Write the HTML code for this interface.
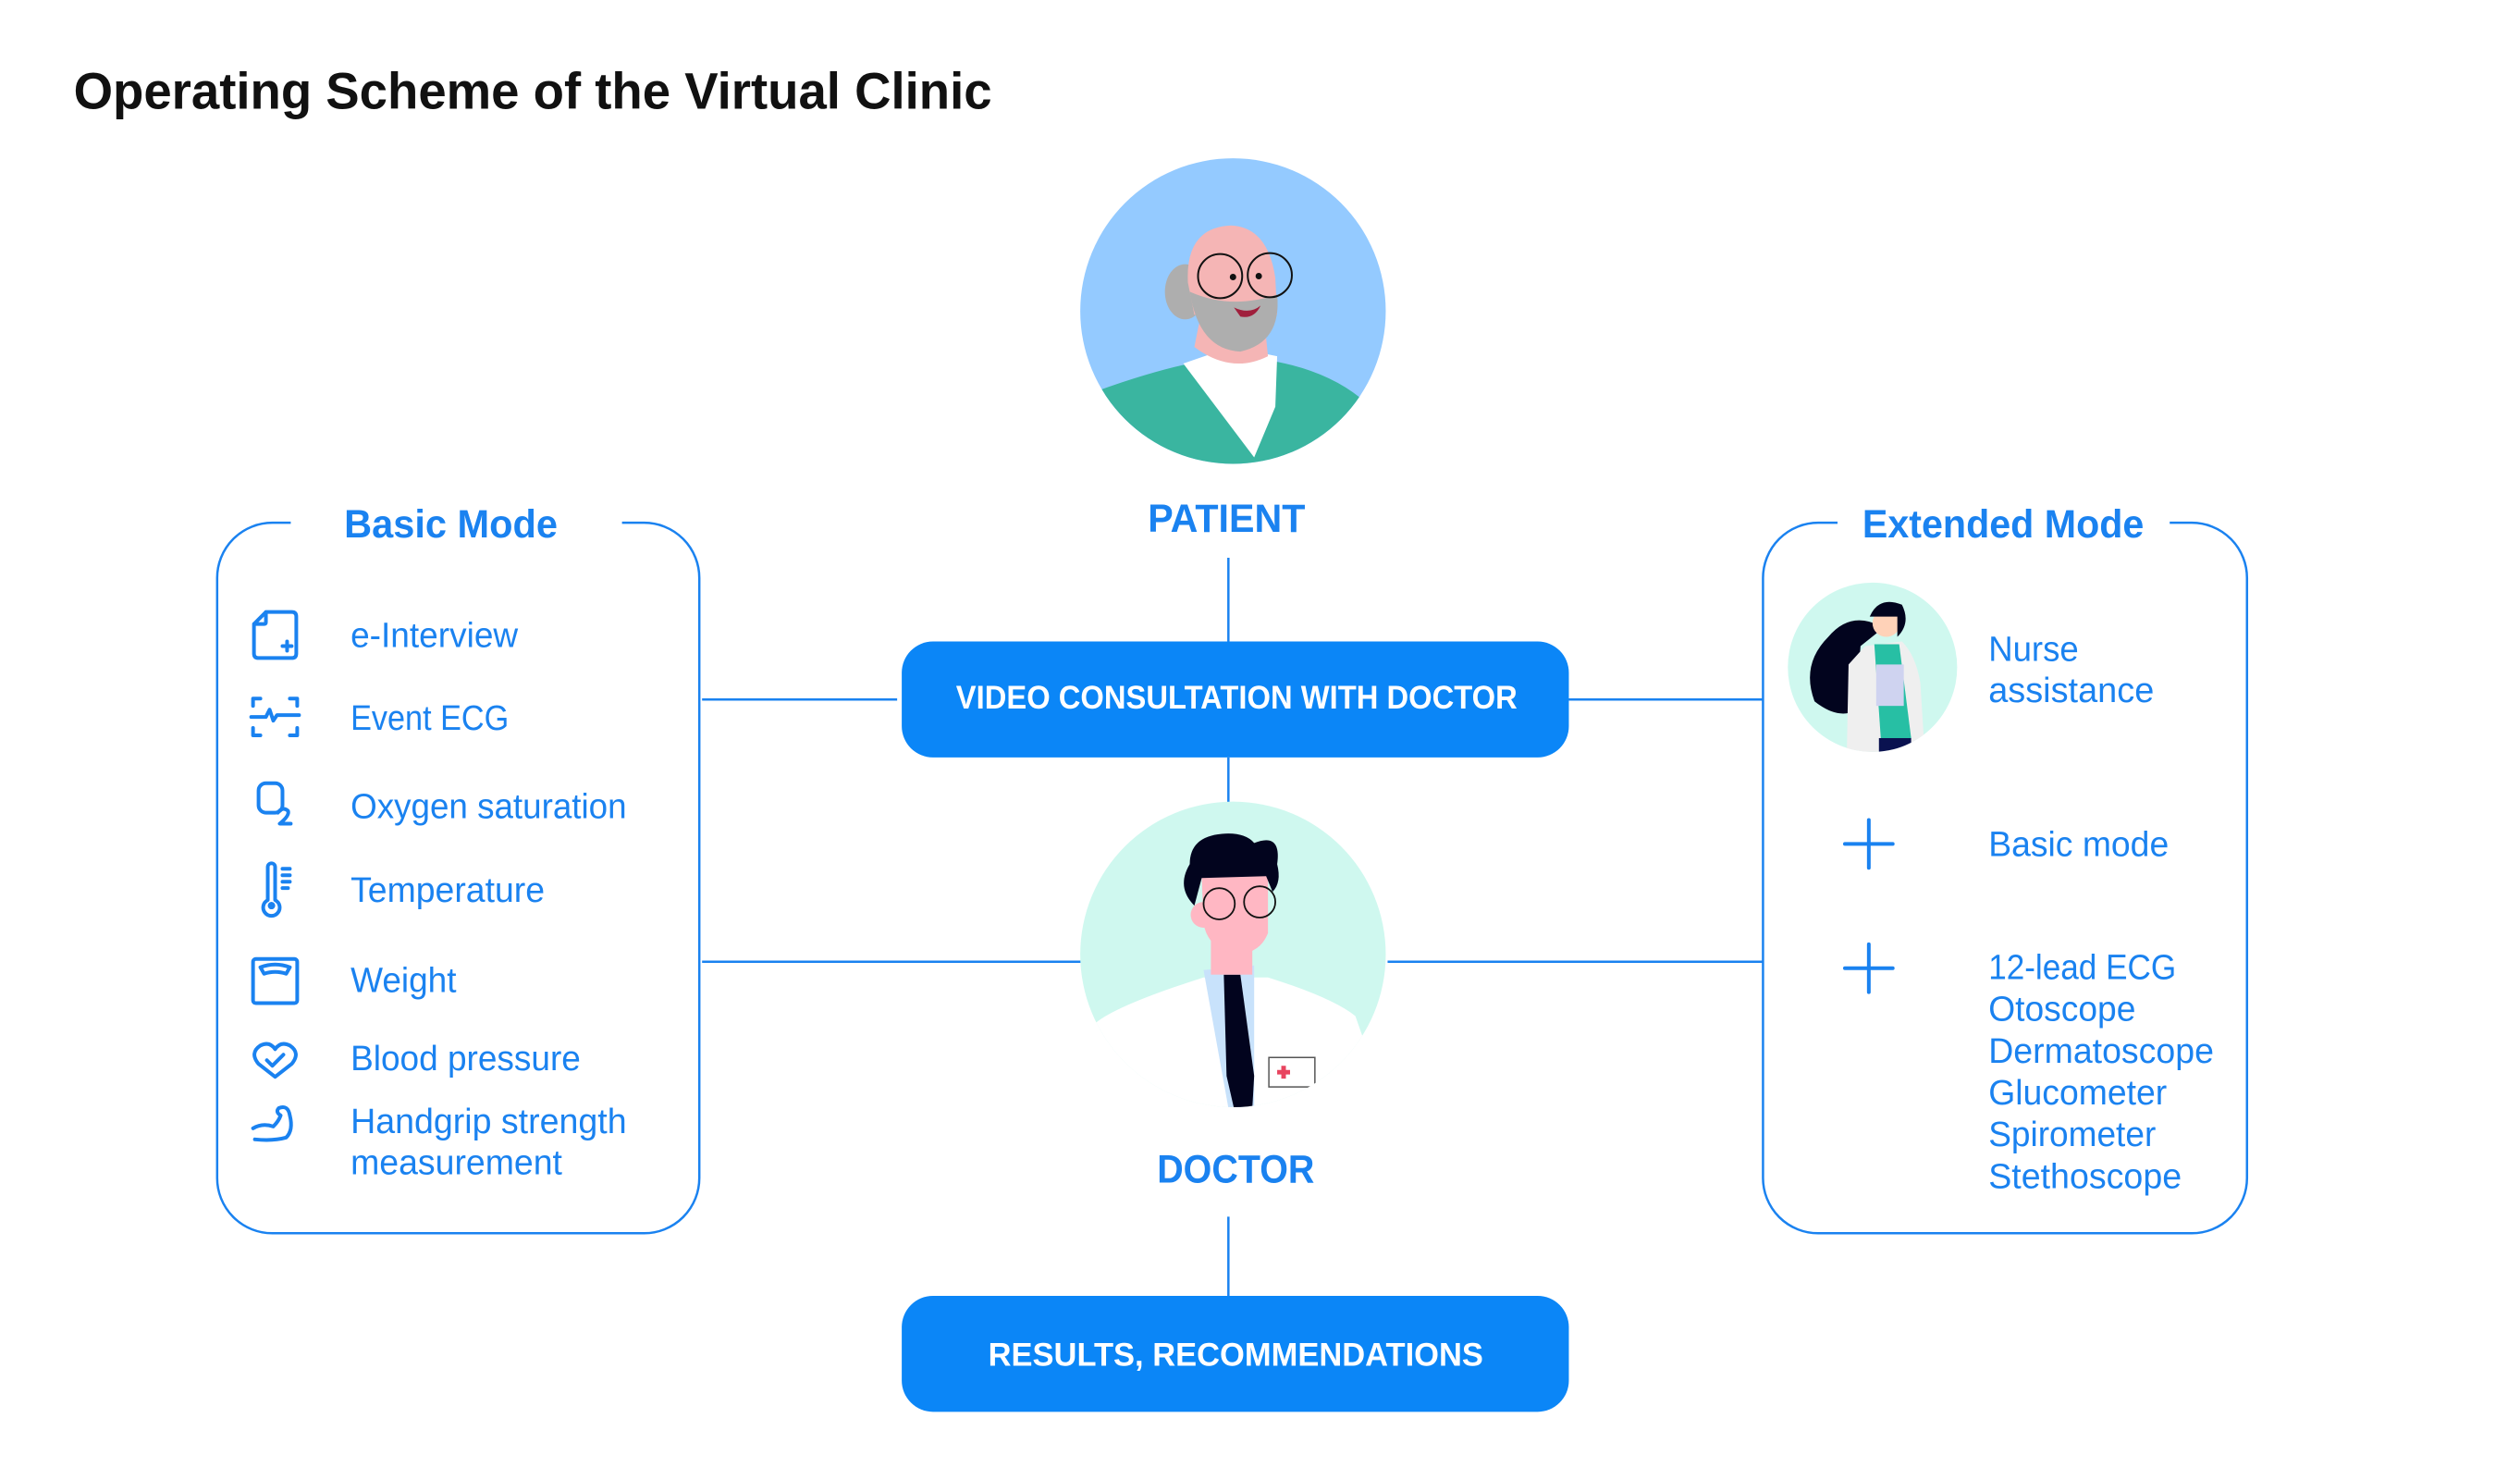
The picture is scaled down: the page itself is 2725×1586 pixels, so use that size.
<!DOCTYPE html>
<html><head><meta charset="utf-8"><style>
html,body{margin:0;padding:0;background:#fff;}
svg{display:block;}
text{font-family:"Liberation Sans",sans-serif;}
</style></head><body>
<svg width="2725" height="1586" viewBox="0 0 2725 1586" xmlns="http://www.w3.org/2000/svg">
<defs>
<clipPath id="cp"><circle cx="1332" cy="336" r="166"/></clipPath>
<clipPath id="cd"><circle cx="1332" cy="1033" r="166"/></clipPath>
<clipPath id="cn"><circle cx="2023" cy="723" r="92"/></clipPath>
</defs>
<g transform="scale(0.995)">
<text x="80" y="118" font-size="56" font-weight="bold" fill="#111" textLength="998" lengthAdjust="spacingAndGlyphs">Operating Scheme of the Virtual Clinic</text>

<g stroke="#1a82f0" stroke-width="2.5" fill="none">
<line x1="1335" y1="606" x2="1335" y2="699"/>
<line x1="1335" y1="823" x2="1335" y2="873"/>
<line x1="1335" y1="1322" x2="1335" y2="1408"/>
<line x1="763" y1="760" x2="975" y2="760"/>
<line x1="1705" y1="760" x2="1916" y2="760"/>
<line x1="763" y1="1045" x2="1176" y2="1045"/>
<line x1="1508" y1="1045" x2="1916" y2="1045"/>
<path d="M316 568 H296 A60 60 0 0 0 236 628 V1280 A60 60 0 0 0 296 1340 H700 A60 60 0 0 0 760 1280 V628 A60 60 0 0 0 700 568 H676"/>
<path d="M1997 568 H1976 A60 60 0 0 0 1916 628 V1280 A60 60 0 0 0 1976 1340 H2382 A60 60 0 0 0 2442 1280 V628 A60 60 0 0 0 2382 568 H2358"/>
</g>

<g transform="translate(8,2)">
<circle cx="1332" cy="336" r="166" fill="#94caff"/>
<g clip-path="url(#cp)">
<path d="M1140 440 Q1250 395 1330 385 Q1420 390 1470 430 L1500 520 L1140 520Z" fill="#3ab5a0"/>
<path d="M1278 393 L1330 375 L1380 385 L1378 440 L1355 495 Z" fill="#fff"/>
<path d="M1290 375 Q1330 405 1370 385 L1367 355 L1295 350Z" fill="#f5b5b5"/>
<ellipse cx="1280" cy="315" rx="22" ry="30" fill="#aeaeae"/>
<path d="M1283 305 Q1280 245 1330 243 Q1370 245 1378 300 L1380 340 L1290 340Z" fill="#f5b5b5"/>
<path d="M1285 315 Q1330 335 1380 318 Q1385 370 1340 380 Q1295 378 1285 315Z" fill="#aeaeae"/>
<path d="M1333 332 Q1350 340 1362 330 Q1355 345 1340 342Z" fill="#a01f3c"/>
<circle cx="1318" cy="298" r="24" fill="none" stroke="#111" stroke-width="2"/>
<circle cx="1372" cy="297" r="24" fill="none" stroke="#111" stroke-width="2"/>
<circle cx="1332" cy="299" r="3.5" fill="#111"/><circle cx="1360" cy="298" r="3.5" fill="#111"/>
</g>
</g>

<text x="1333" y="578" font-size="43" font-weight="bold" fill="#1a82f0" text-anchor="middle" textLength="171" lengthAdjust="spacingAndGlyphs">PATIENT</text>

<rect x="980" y="697" width="725" height="126" rx="34" fill="#0b86f7"/>
<text x="1344" y="770" font-size="35" font-weight="bold" fill="#fff" text-anchor="middle" textLength="610" lengthAdjust="spacingAndGlyphs">VIDEO CONSULTATION WITH DOCTOR</text>

<g transform="translate(8,4)">
<circle cx="1332" cy="1033" r="166" fill="#cff8ef"/>
<g clip-path="url(#cd)">
<path d="M1180 1110 Q1200 1090 1300 1058 L1370 1058 Q1440 1080 1465 1100 L1500 1200 L1160 1200Z" fill="#fff"/>
<path d="M1300 1050 L1355 1045 L1355 1200 L1327 1200Z" fill="#c8e2fb"/>
<path d="M1322 1055 L1340 1055 L1355 1165 L1353 1200 L1333 1200 L1325 1165Z" fill="#02041e"/>
<rect x="1308" y="1010" width="45" height="45" fill="#ffb7c3"/>
<path d="M1298 948 L1370 945 L1370 1010 Q1360 1035 1330 1032 Q1305 1025 1300 1000Z" fill="#ffb7c3"/>
<circle cx="1300" cy="990" r="14" fill="#ffb7c3"/>
<path d="M1290 980 Q1270 960 1285 935 Q1285 905 1320 902 Q1345 900 1355 912 Q1385 900 1380 935 Q1385 955 1375 965 L1368 948 L1298 950Z" fill="#02041e"/>
<circle cx="1317" cy="978" r="17" fill="none" stroke="#111" stroke-width="1.8"/>
<circle cx="1361" cy="976" r="17" fill="none" stroke="#111" stroke-width="1.8"/>
<rect x="1371" y="1145" width="50" height="32" fill="#fff" stroke="#555" stroke-width="1.5"/>
<path d="M1380 1161 h14 M1387 1154 v14" stroke="#e8445f" stroke-width="5"/>
</g>
</g>

<text x="1343" y="1285" font-size="43" font-weight="bold" fill="#1a82f0" text-anchor="middle" textLength="171" lengthAdjust="spacingAndGlyphs">DOCTOR</text>

<rect x="980" y="1408" width="725" height="126" rx="34" fill="#0b86f7"/>
<text x="1343" y="1484" font-size="35" font-weight="bold" fill="#fff" text-anchor="middle" textLength="538" lengthAdjust="spacingAndGlyphs">RESULTS, RECOMMENDATIONS</text>

<g fill="#1a82f0">
<text x="490" y="584" font-size="43" font-weight="bold" text-anchor="middle" textLength="232" lengthAdjust="spacingAndGlyphs">Basic Mode</text>
<g font-size="38">
<text x="381" y="703" textLength="182" lengthAdjust="spacingAndGlyphs">e-Interview</text>
<text x="381" y="793" textLength="172" lengthAdjust="spacingAndGlyphs">Event ECG</text>
<text x="381" y="889" textLength="300" lengthAdjust="spacingAndGlyphs">Oxygen saturation</text>
<text x="381" y="980" textLength="211" lengthAdjust="spacingAndGlyphs">Temperature</text>
<text x="381" y="1078" textLength="115" lengthAdjust="spacingAndGlyphs">Weight</text>
<text x="381" y="1163" textLength="250" lengthAdjust="spacingAndGlyphs">Blood pressure</text>
<text x="381" y="1231" textLength="300" lengthAdjust="spacingAndGlyphs">Handgrip strength</text>
<text x="381" y="1276" textLength="230" lengthAdjust="spacingAndGlyphs">measurement</text>
</g>
</g>
<g stroke="#1a82f0" stroke-width="4" fill="none" stroke-linecap="round" stroke-linejoin="round">
<g transform="translate(299,690)">
<path d="M-10 -25 H18 Q23 -25 23 -20 V20 Q23 25 18 25 H-18 Q-23 25 -23 20 V-12 Z M-23 -12 H-12 Q-10 -12 -10 -14 V-25 M8 12 h10 M13 7 v10"/>
</g>
<g transform="translate(299,779)">
<path d="M-24 -12 v-8 h8 M16 -20 h8 v8 M-24 12 v8 h8 M16 20 h8 v-8 M-26 0 h16 l4 -8 l4 12 l4 -6 h24"/>
</g>
<g transform="translate(299,877)">
<rect x="-18" y="-26" width="26" height="32" rx="8"/>
<path d="M3 6 q5 -7 11 -2 q2 5 -9 14 h12"/>
</g>
<g transform="translate(299,968)">
<path d="M-8 -26 v36 a9 9 0 1 0 8 0 v-36 a4 4 0 0 0 -8 0 M-4 14 a2 2 0 1 0 0.1 0 M8 -24 h8 M8 -17 h8 M8 -10 h8 M8 -3 h6"/>
</g>
<g transform="translate(299,1066)">
<rect x="-24" y="-24" width="48" height="48" rx="3"/>
<path d="M-16 -15 q16 -6 32 0 l-4 7 q-12 -4 -24 0 z"/>
</g>
<g transform="translate(299,1152)">
<path d="M0 18 l-18 -14 q-10 -12 2 -20 q10 -5 16 4 q6 -9 16 -4 q12 8 2 20 z M-9 0 l6 6 l12 -12"/>
</g>
<g transform="translate(299,1228)">
<path d="M-24 -2 q10 -6 22 -2 q6 -6 8 -12 q-6 -4 -2 -8 q10 -4 12 8 q4 16 -4 24 q-14 4 -34 2"/>
</g>
</g>

<text x="2177" y="584" font-size="43" font-weight="bold" fill="#1a82f0" text-anchor="middle" textLength="306" lengthAdjust="spacingAndGlyphs">Extended Mode</text>
<g transform="translate(12,2)">
<circle cx="2023" cy="723" r="92" fill="#cff8ef"/>
<g clip-path="url(#cn)">
<path d="M2035 680 Q2000 660 1975 690 Q1945 720 1960 760 Q1985 780 2005 770 L2010 700Z" fill="#02041e"/>
<path d="M2015 700 L2055 695 Q2070 710 2075 740 L2080 820 L1995 820 L1997 720Z" fill="#efefef"/>
<path d="M2025 698 L2052 698 L2065 800 L2032 800Z" fill="#27bfa4"/>
<rect x="2030" y="800" width="35" height="25" fill="#0a1250"/>
<rect x="2027" y="720" width="30" height="45" fill="#cfd3f0"/>
<circle cx="2038" cy="675" r="15" fill="#ffd2b8"/>
<path d="M2020 668 Q2030 645 2055 655 Q2065 675 2050 690 L2050 668Z" fill="#02041e"/>
</g>
</g>
<g fill="#1a82f0" font-size="38">
<text x="2161" y="718" textLength="98" lengthAdjust="spacingAndGlyphs">Nurse</text>
<text x="2161" y="763" textLength="180" lengthAdjust="spacingAndGlyphs">assistance</text>
<text x="2161" y="930" textLength="196" lengthAdjust="spacingAndGlyphs">Basic mode</text>
<text x="2161" y="1064" textLength="204" lengthAdjust="spacingAndGlyphs">12-lead ECG</text>
<text x="2161" y="1109" textLength="160" lengthAdjust="spacingAndGlyphs">Otoscope</text>
<text x="2161" y="1155" textLength="245" lengthAdjust="spacingAndGlyphs">Dermatoscope</text>
<text x="2161" y="1200" textLength="194" lengthAdjust="spacingAndGlyphs">Glucometer</text>
<text x="2161" y="1245" textLength="182" lengthAdjust="spacingAndGlyphs">Spirometer</text>
<text x="2161" y="1291" textLength="210" lengthAdjust="spacingAndGlyphs">Stethoscope</text>
</g>
<g stroke="#1a82f0" stroke-width="4" stroke-linecap="round">
<path d="M2005 917 h52 M2031 891 v52"/>
<path d="M2005 1052 h52 M2031 1026 v52"/>
</g>
</g>
</svg>
</body></html>
